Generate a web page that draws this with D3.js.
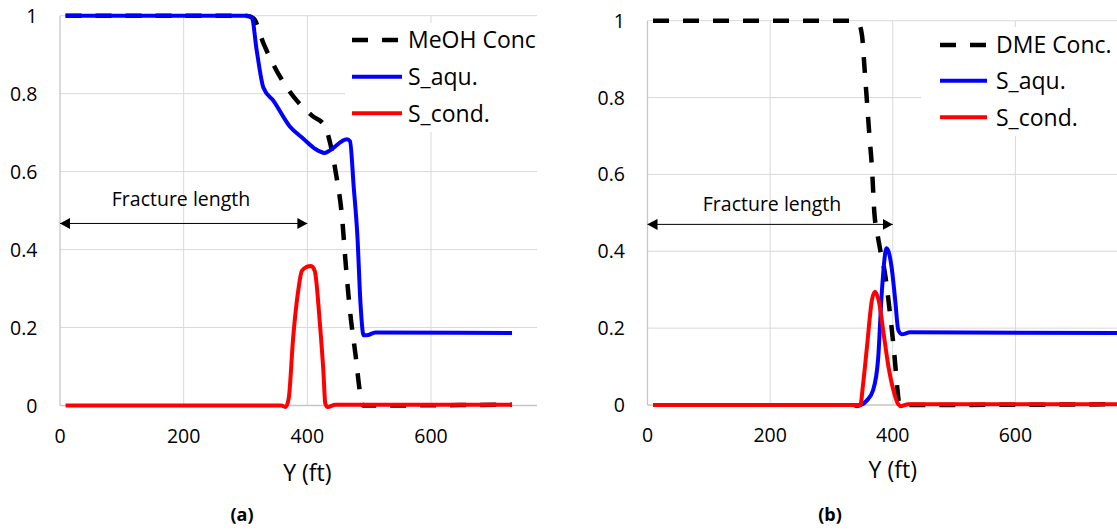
<!DOCTYPE html>
<html>
<head>
<meta charset="utf-8">
<script src="https://cdn.jsdelivr.net/npm/d3@7"></script>
<style>
  body { margin: 0; background: #fff; }
  svg { display: block; font-family: 'Open Sans', 'Noto Sans', sans-serif; }
</style>
</head>
<body>
<svg id="chart" width="1117" height="531"></svg>
<script>
// axis ticks
const xTicks = [0, 200, 400, 600, 800];
const xTickLabels = ['0', '200', '400', '600', '800'];
const yTicks = [0, 0.2, 0.4, 0.6, 0.8, 1];
const yTickLabels = ['0', '0.2', '0.4', '0.6', '0.8', '1'];

// panel (a) - [Y ft, value]
const meohConcA = [[9,1],[300,1],[313,0.993],[329,0.929],[356,0.843],[383,0.782],[408,0.743],[428,0.718],
  [437,0.672],[447,0.588],[456,0.485],[462,0.364],[469,0.242],[478,0.129],[486,0.025],[490,0],[731,0.002]];
const sAquA = [[9,1],[300,1],[310,0.997],[318,0.912],[329,0.815],[345,0.782],[372,0.715],[394,0.684],
  [412,0.659],[428,0.648],[437,0.655],[464,0.683],[469,0.678],[475,0.56],[481,0.433],[486,0.26],
  [491,0.18],[496,0.18],[510,0.1875],[731,0.186]];
const sCondA = [[9,0],[358,0],[365,-0.004],[370,0.02],[377,0.173],[386,0.303],[391,0.345],[398,0.355],
  [406,0.358],[412,0.345],[420,0.216],[426,0.086],[429,0.005],[433,-0.004],[445,0.002],[731,0.002]];

// panel (b)
const dmeConcB = [[9,1],[330,1],[345,0.99],[350,0.96],[354,0.876],[358,0.788],[362,0.70],[366,0.62],
  [370,0.50],[375,0.445],[380,0.40],[387,0.345],[395,0.245],[403,0.125],[408,0.035],[411,0],[790,0.002]];
const sAquB = [[9,0],[335,0],[342,-0.003],[348,0],[358,0.012],[368,0.039],[376,0.117],[382,0.29],
  [390,0.408],[398,0.36],[404,0.273],[409,0.195],[415,0.184],[428,0.189],[790,0.187]];
const sCondB = [[9,0],[340,0],[347,0],[352,0.06],[358,0.152],[366,0.273],[371,0.295],[378,0.265],
  [385,0.187],[393,0.10],[401,0.039],[409,0.002],[414,-0.003],[425,0.002],[790,0.002]];

const legendA = ['MeOH Conc', 'S_aqu.', 'S_cond.'];
const legendB = ['DME Conc.', 'S_aqu.', 'S_cond.'];

const svg = d3.select('#chart');

// arrow head
svg.append('defs')
  .append('marker')
  .attr('id', 'arrowHead')
  .attr('viewBox', '0 0 10 11')
  .attr('refX', 10)
  .attr('refY', 5.5)
  .attr('markerUnits', 'userSpaceOnUse')
  .attr('markerWidth', 10)
  .attr('markerHeight', 11)
  .attr('orient', 'auto-start-reverse')
  .append('path')
  .attr('d', 'M0,0 L10,5.5 L0,11 Z')
  .attr('fill', 'black');

window.onload = function() {
  drawPanel({
    id: 'a', left: 0, clipRight: 537,
    x0: 60, x800: 554.7, y0: 405.5, y1: 15.7,
    yLabelX: 37.5, xLabelY: 443, titleY: 481, tagX: 242,
    series: [meohConcA, sAquA, sCondA], legend: legendA,
    legBox: [345, 23], legLineX: [352, 402], legTextX: 408,
    legY: [40, 76.7, 113.3], arrowY: 0.467, noteY: 0.512, noteX: 181
  });
  drawPanel({
    id: 'b', left: 560, clipRight: 1117,
    x0: 647.5, x800: 1138, y0: 405, y1: 20.7,
    yLabelX: 625, xLabelY: 442, titleY: 478, tagX: 830,
    series: [dmeConcB, sAquB, sCondB], legend: legendB,
    legBox: [921, 27], legLineX: [940, 987], legTextX: 996,
    legY: [45, 80.7, 117.3], arrowY: 0.47, noteY: 0.505, noteX: 772
  });
};

function drawPanel(p) {
  const x = d3.scaleLinear().domain([0, 800]).range([p.x0, p.x800]);
  const y = d3.scaleLinear().domain([0, 1]).range([p.y0, p.y1]);
  const styles = [
    { color: 'black', width: 4.5, dash: '16,14' },
    { color: '#0000ff', width: 4, dash: null },
    { color: '#ff0000', width: 4, dash: null }
  ];

  svg.select('defs')
    .append('clipPath')
    .attr('id', 'clip' + p.id)
    .append('rect')
    .attr('x', p.left)
    .attr('y', 0)
    .attr('width', p.clipRight - p.left)
    .attr('height', 531);

  const g = svg.append('g').attr('clip-path', 'url(#clip' + p.id + ')');

  // gridlines
  g.selectAll('.hgrid')
    .data(yTicks.filter(d => d > 0))
    .join('line')
    .attr('x1', x(0)).attr('x2', x(800))
    .attr('y1', d => y(d)).attr('y2', d => y(d))
    .attr('stroke', '#d9d9d9').attr('stroke-width', 1);
  g.selectAll('.vgrid')
    .data(xTicks.filter(d => d > 0))
    .join('line')
    .attr('x1', d => x(d)).attr('x2', d => x(d))
    .attr('y1', y(0)).attr('y2', y(1))
    .attr('stroke', '#d9d9d9').attr('stroke-width', 1);
  // axis lines
  g.append('line')
    .attr('x1', x(0)).attr('x2', x(800))
    .attr('y1', y(0)).attr('y2', y(0))
    .attr('stroke', '#c6c6c6').attr('stroke-width', 1.3);
  g.append('line')
    .attr('x1', x(0)).attr('x2', x(0))
    .attr('y1', y(0)).attr('y2', y(1))
    .attr('stroke', '#c6c6c6').attr('stroke-width', 1.3);

  // tick labels
  g.selectAll('.ylab')
    .data(yTicks)
    .join('text')
    .attr('x', p.yLabelX)
    .attr('y', d => y(d) + 7)
    .attr('text-anchor', 'end')
    .attr('font-size', 19.5)
    .text((d, i) => yTickLabels[i]);
  g.selectAll('.xlab')
    .data(xTicks.filter(d => x(d) < p.clipRight - 20))
    .join('text')
    .attr('x', d => x(d))
    .attr('y', p.xLabelY)
    .attr('text-anchor', 'middle')
    .attr('font-size', 19.5)
    .text(d => xTickLabels[xTicks.indexOf(d)]);

  // axis title and panel tag
  g.append('text')
    .attr('x', x(400))
    .attr('y', p.titleY)
    .attr('text-anchor', 'middle')
    .attr('font-size', 23)
    .text('Y (ft)');
  g.append('text')
    .attr('x', p.tagX)
    .attr('y', 521)
    .attr('text-anchor', 'middle')
    .attr('font-size', 18)
    .attr('font-weight', 'bold')
    .text('(' + p.id + ')');

  // series
  const line = d3.line()
    .x(d => x(d[0]))
    .y(d => y(d[1]))
    .curve(d3.curveMonotoneX);
  p.series.forEach((s, i) => {
    g.append('path')
      .attr('d', line(s))
      .attr('fill', 'none')
      .attr('stroke', styles[i].color)
      .attr('stroke-width', styles[i].width)
      .attr('stroke-dasharray', styles[i].dash)
      .attr('stroke-linejoin', 'round');
  });

  // legend
  g.append('rect')
    .attr('x', p.legBox[0])
    .attr('y', p.legBox[1])
    .attr('width', 200)
    .attr('height', 109)
    .attr('fill', 'white');
  p.legend.forEach((name, i) => {
    g.append('line')
      .attr('x1', p.legLineX[0]).attr('x2', p.legLineX[1])
      .attr('y1', p.legY[i]).attr('y2', p.legY[i])
      .attr('stroke', styles[i].color)
      .attr('stroke-width', styles[i].width)
      .attr('stroke-dasharray', styles[i].dash);
    g.append('text')
      .attr('x', p.legTextX)
      .attr('y', p.legY[i] + 8.3)
      .attr('font-size', 23)
      .text(name);
  });

  // fracture length annotation
  g.append('line')
    .attr('x1', x(0)).attr('x2', x(400))
    .attr('y1', y(p.arrowY)).attr('y2', y(p.arrowY))
    .attr('stroke', 'black')
    .attr('stroke-width', 1)
    .attr('marker-start', 'url(#arrowHead)')
    .attr('marker-end', 'url(#arrowHead)');
  g.append('text')
    .attr('x', p.noteX)
    .attr('y', y(p.noteY))
    .attr('text-anchor', 'middle')
    .attr('font-size', 19.5)
    .text('Fracture length');
}
</script>
</body>
</html>
